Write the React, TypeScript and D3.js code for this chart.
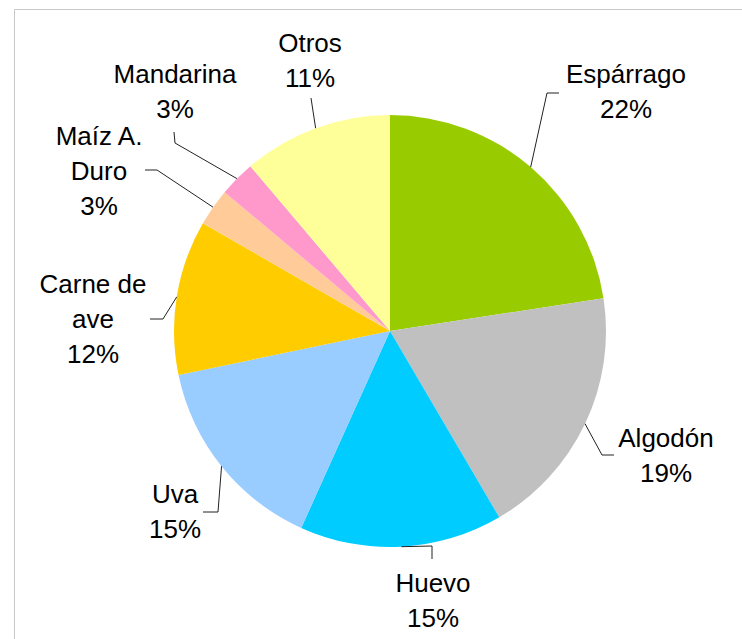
import React from "react";
import * as d3 from "d3";

// share of each product (clockwise from 12 o'clock)
const products = ["Espárrago", "Algodón", "Huevo", "Uva", "Carne de ave", "Maíz A. Duro", "Mandarina", "Otros"];
const shares = [22.6, 19.0, 15.2, 15.0, 11.6, 2.8, 2.7, 11.2];
const percentLabels = ["22%", "19%", "15%", "15%", "12%", "3%", "3%", "11%"];
const labelLines = [
  ["Espárrago"],
  ["Algodón"],
  ["Huevo"],
  ["Uva"],
  ["Carne de", "ave"],
  ["Maíz A.", "Duro"],
  ["Mandarina"],
  ["Otros"],
];
const colors = ["#99cc00", "#c0c0c0", "#00ccff", "#99ccff", "#ffcc00", "#ffcc99", "#ff99cc", "#ffff99"];

// label layout, relative to the pie centre: elbow, leader end, text anchor (first baseline)
const labelLayout = [
  { elbow: [157, -238], end: [169, -238], text: [236, -248] },
  { elbow: [212, 124], end: [224, 124], text: [276, 116] },
  { elbow: [42, 215], end: [42, 228], text: [43, 261] },
  { elbow: [-172, 181], end: [-187, 181], text: [-215, 172] },
  { elbow: [-227, -12], end: [-240, -12], text: [-297, -38] },
  { elbow: [-233, -161], end: [-245, -161], text: [-291, -186] },
  { elbow: [-215, -188], end: [-216, -199], text: [-215, -248] },
  { elbow: [-79, -233], end: [-79, -233], text: [-80, -279] },
];

const W = 742;
const H = 639;
const cx = 390;
const cy = 331;
const radius = 216;
const lineH = 35;

export default function App() {
  const pie = d3.pie<number>().sort(null).value((d) => d);
  const arcs = pie(shares);
  const arc = d3.arc<d3.PieArcDatum<number>>().innerRadius(0).outerRadius(radius);

  return (
    <svg
      width={W}
      height={H}
      style={{ position: "absolute", left: 0, top: 0, background: "#fff" }}
      fontFamily="'Liberation Sans', Arial, sans-serif"
    >
      <path d={`M14.5,${H} V9.5 H${W}`} fill="none" stroke="#c8c8c8" strokeWidth={1} />
      <g transform={`translate(${cx},${cy})`}>
        {arcs.map((a, i) => (
          <path key={products[i]} d={arc(a) || ""} fill={colors[i]} />
        ))}
        {arcs.map((a, i) => {
          const mid = (a.startAngle + a.endAngle) / 2;
          const sx = radius * Math.sin(mid);
          const sy = -radius * Math.cos(mid);
          const lay = labelLayout[i];
          const lines = [...labelLines[i], percentLabels[i]];
          return (
            <g key={"lbl" + products[i]}>
              <polyline
                points={`${sx},${sy} ${lay.elbow[0]},${lay.elbow[1]} ${lay.end[0]},${lay.end[1]}`}
                fill="none"
                stroke="#222"
                strokeWidth={1}
              />
              <text x={lay.text[0]} y={lay.text[1]} textAnchor="middle" fontSize={26} fill="#000">
                {lines.map((t, j) => (
                  <tspan key={j} x={lay.text[0]} y={lay.text[1] + j * lineH}>
                    {t}
                  </tspan>
                ))}
              </text>
            </g>
          );
        })}
      </g>
    </svg>
  );
}
